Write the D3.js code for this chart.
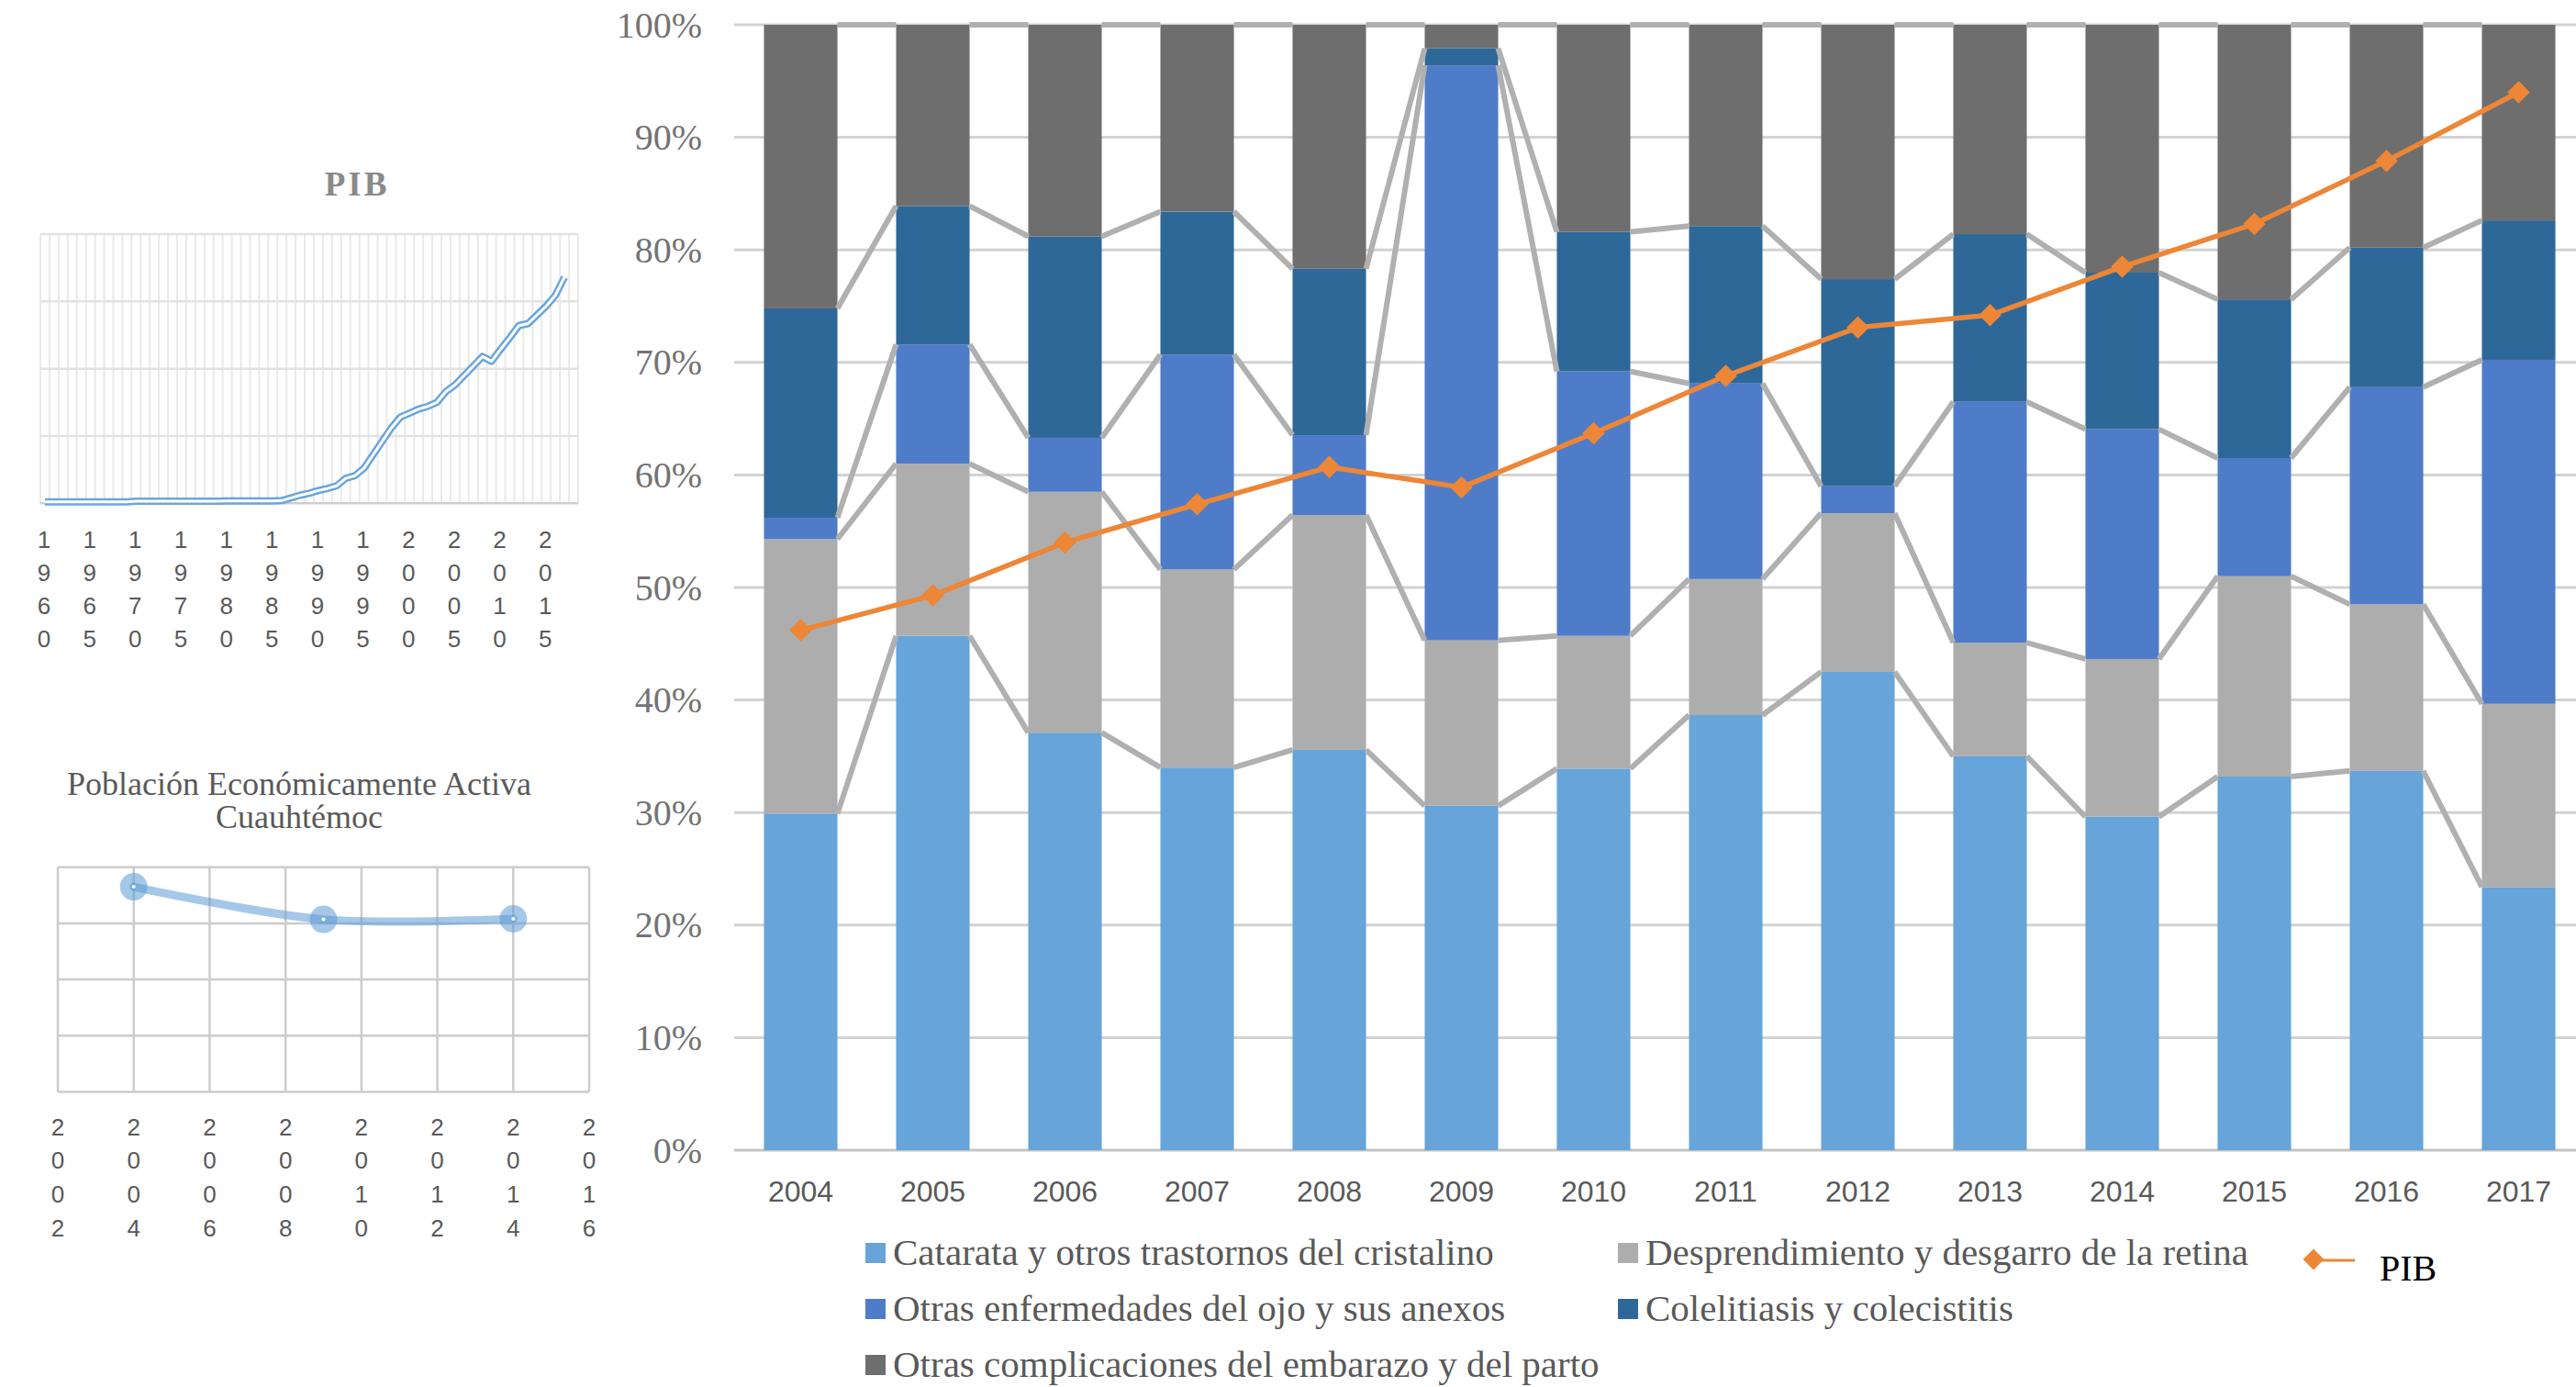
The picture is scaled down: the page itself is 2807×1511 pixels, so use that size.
<!DOCTYPE html>
<html>
<head>
<meta charset="utf-8">
<script src="https://cdn.jsdelivr.net/npm/d3@7"></script>
<style>
  html, body { margin: 0; padding: 0; background: #ffffff; }
  svg { display: block; }
</style>
</head>
<body>
<svg id="chart" width="2807" height="1511"></svg>
<script>
// ---------------- DATA ----------------
const years = ["2004","2005","2006","2007","2008","2009","2010","2011","2012","2013","2014","2015","2016","2017"];
const seriesNames = [
  "Catarata y otros trastornos del cristalino",
  "Desprendimiento y desgarro de la retina",
  "Otras enfermedades del ojo y sus anexos",
  "Colelitiasis y colecistitis",
  "Otras complicaciones del embarazo y del parto"
];
const catarata      = [29.9, 45.7, 37.1, 34.0, 35.6, 30.6, 33.9, 38.7, 42.5, 35.0, 29.6, 33.2, 33.7, 23.4];
const desprend      = [24.4, 15.3, 21.4, 17.6, 20.9, 14.7, 11.8, 12.1, 14.1, 10.1, 14.0, 17.8, 14.8, 16.3];
const otrasOjo      = [ 1.9, 10.6,  4.8, 19.1,  7.1, 51.1, 23.5, 17.4,  2.4, 21.4, 20.4, 10.5, 19.3, 30.6];
const colelitiasis  = [18.6, 12.3, 17.9, 12.7, 14.8,  1.5, 12.4, 14.0, 18.4, 14.9, 13.9, 14.1, 12.4, 12.4];
const complicaciones= [25.2, 16.1, 18.8, 16.6, 21.7,  2.1, 18.4, 17.9, 22.6, 18.6, 22.0, 24.4, 19.8, 17.4];
const pib           = [46.2, 49.3, 54.0, 57.4, 60.7, 58.9, 63.7, 68.8, 73.1, 74.2, 78.5, 82.3, 87.9, 94.0];
const yTicks = [0,10,20,30,40,50,60,70,80,90,100];

// Left chart 1: PIB (1960-2018 axis, data 1960-2017), arbitrary units
const pibYears = d3.range(1960, 2019).map(String);
const pibHist = [0.02,0.02,0.02,0.02,0.02,0.02,0.02,0.02,0.02,0.02,
                 0.03,0.03,0.03,0.03,0.03,0.03,0.03,0.03,0.03,0.03,
                 0.035,0.035,0.035,0.035,0.035,0.035,0.04,0.08,0.12,0.15,
                 0.19,0.22,0.26,0.37,0.41,0.52,0.72,0.92,1.12,1.28,
                 1.34,1.40,1.44,1.50,1.66,1.76,1.90,2.04,2.18,2.11,
                 2.29,2.46,2.64,2.67,2.80,2.93,3.09,3.36];
const pibLabelYears = ["1960","1965","1970","1975","1980","1985","1990","1995","2000","2005","2010","2015"];

// Left chart 2: Población Económicamente Activa Cuauhtémoc
const peaYears = [2004, 2009, 2014];
const peaValues = [3.65, 3.07, 3.08];
const peaTicks = [2002, 2004, 2006, 2008, 2010, 2012, 2014, 2016];

// ---------------- STYLE ----------------
const colors = ["#66a4d9", "#adadad", "#4f7cc8", "#2e6898", "#6e6e6e"];
const orange = "#ed8636";
const serif = "'Liberation Serif','Times New Roman',serif";
const sans = "'Liberation Sans',Arial,sans-serif";

const svg = d3.select("#chart");

// ================= MAIN CHART =================
const x = d3.scaleBand().domain(years).range([800, 2817]).paddingInner(0.444).paddingOuter(0.2255);
const y = d3.scaleLinear().domain([0, 100]).range([1253, 27]);
const bw = x.bandwidth();

const main = svg.append("g");

// gridlines
main.append("g").selectAll("line").data(yTicks).join("line")
  .attr("x1", 800).attr("x2", 2807)
  .attr("y1", d => y(d)).attr("y2", d => y(d))
  .attr("stroke", d => d === 0 ? "#c4c4c4" : "#d2d2d2")
  .attr("stroke-width", 3);

// y labels
main.append("g").selectAll("text").data(yTicks).join("text")
  .attr("x", 765).attr("y", d => y(d))
  .attr("text-anchor", "end").attr("dominant-baseline", "central")
  .attr("font-family", serif).attr("font-size", 40).attr("fill", "#737373")
  .text(d => d + "%");

// x labels
main.append("g").selectAll("text").data(years).join("text")
  .attr("x", d => x(d) + bw / 2).attr("y", 1298)
  .attr("text-anchor", "middle").attr("dominant-baseline", "central")
  .attr("font-family", sans).attr("font-size", 32).attr("fill", "#595959")
  .text(d => d);

// stack
const seriesArrays = [catarata, desprend, otrasOjo, colelitiasis, complicaciones];
const rows = years.map((yr, i) => {
  const r = { year: yr };
  seriesArrays.forEach((arr, k) => r["s" + k] = arr[i]);
  return r;
});
const keys = seriesArrays.map((_, k) => "s" + k);
const stacked = d3.stack().keys(keys).offset(d3.stackOffsetExpand)(rows);

main.append("g").selectAll("g").data(stacked).join("g")
  .attr("fill", (d, k) => colors[k])
  .selectAll("rect").data(d => d).join("rect")
  .attr("x", d => x(d.data.year))
  .attr("width", bw)
  .attr("y", d => y(d[1] * 100))
  .attr("height", d => y(d[0] * 100) - y(d[1] * 100));

// series lines connecting segment tops
const serLines = [];
stacked.forEach(s => {
  for (let i = 0; i < s.length - 1; i++) {
    serLines.push({ a: s[i], b: s[i + 1] });
  }
});
main.append("g").selectAll("line").data(serLines).join("line")
  .attr("x1", d => x(d.a.data.year) + bw)
  .attr("y1", d => y(d.a[1] * 100))
  .attr("x2", d => x(d.b.data.year))
  .attr("y2", d => y(d.b[1] * 100))
  .attr("stroke", "#b0b0b0").attr("stroke-width", 6);

// PIB line
const pibPts = years.map((yr, i) => ({ year: yr, v: pib[i] }));
main.append("path").datum(pibPts)
  .attr("d", d3.line().x(d => x(d.year) + bw / 2).y(d => y(d.v)))
  .attr("fill", "none").attr("stroke", orange).attr("stroke-width", 5.5)
  .attr("stroke-linejoin", "round");
main.append("g").selectAll("path").data(pibPts).join("path")
  .attr("d", d3.symbol(d3.symbolSquare, 300))
  .attr("transform", d => `translate(${x(d.year) + bw / 2},${y(d.v)}) rotate(45)`)
  .attr("fill", orange);

// legend
const legendItems = [
  { name: seriesNames[0], color: colors[0], sx: 943, ty: 1365 },
  { name: seriesNames[1], color: colors[1], sx: 1763, ty: 1365 },
  { name: seriesNames[2], color: colors[2], sx: 943, ty: 1426 },
  { name: seriesNames[3], color: colors[3], sx: 1763, ty: 1426 },
  { name: seriesNames[4], color: colors[4], sx: 943, ty: 1487 }
];
const lg = main.append("g").selectAll("g").data(legendItems).join("g");
lg.append("rect").attr("x", d => d.sx).attr("y", d => d.ty - 11)
  .attr("width", 22).attr("height", 22).attr("fill", d => d.color);
lg.append("text").attr("x", d => d.sx + 30).attr("y", d => d.ty + 13)
  .attr("font-family", serif).attr("font-size", 41).attr("fill", "#595959")
  .text(d => d.name);

// PIB legend
const pl = main.append("g");
pl.append("line").attr("x1", 2521).attr("x2", 2566).attr("y1", 1373).attr("y2", 1373)
  .attr("stroke", orange).attr("stroke-width", 3);
pl.append("path").attr("d", d3.symbol(d3.symbolSquare, 260))
  .attr("transform", "translate(2521,1372) rotate(45)").attr("fill", orange);
pl.append("text").attr("x", 2593).attr("y", 1395)
  .attr("font-family", serif).attr("font-size", 40).attr("fill", "#000")
  .text("PIB");

// ================= LEFT CHART 1: PIB =================
const x1 = d3.scaleBand().domain(pibYears).range([44, 630]);
const y1 = d3.scaleLinear().domain([0, 4]).range([548.3, 255]);
const c1 = svg.append("g");

c1.append("text").attr("x", 389).attr("y", 213).attr("text-anchor", "middle")
  .attr("font-family", serif).attr("font-weight", "bold").attr("font-size", 37)
  .attr("letter-spacing", 3).attr("fill", "#8a8a8a").text("PIB");

// vertical gridlines at band edges
const edges = pibYears.map(d => x1(d)).concat([x1.range()[1]]);
c1.append("g").selectAll("line").data(edges).join("line")
  .attr("x1", d => d).attr("x2", d => d).attr("y1", y1(4)).attr("y2", y1(0))
  .attr("stroke", "#e9e9e9").attr("stroke-width", 2);
c1.append("g").selectAll("line").data([0, 1, 2, 3, 4]).join("line")
  .attr("x1", 44).attr("x2", 630).attr("y1", d => y1(d)).attr("y2", d => y1(d))
  .attr("stroke", d => d === 0 ? "#cfcfcf" : "#e2e2e2").attr("stroke-width", 2.5);

const pibHistPts = pibHist.map((v, i) => ({ year: pibYears[i], v }));
const line1 = d3.line().x(d => x1(d.year) + x1.bandwidth() / 2).y(d => y1(d.v));
c1.append("path").datum(pibHistPts).attr("d", line1)
  .attr("fill", "none").attr("stroke", "#6aa6dc").attr("stroke-width", 8)
  .attr("stroke-linejoin", "round");
c1.append("path").datum(pibHistPts).attr("d", line1)
  .attr("fill", "none").attr("stroke", "#ffffff").attr("stroke-width", 3)
  .attr("stroke-linejoin", "round");

const digitRows1 = [588, 624, 660, 696];
const lab1 = c1.append("g").selectAll("g").data(pibLabelYears).join("g");
lab1.selectAll("text").data(d => d.split("").map((ch, j) => ({ ch, j, yr: d }))).join("text")
  .attr("x", d => x1(d.yr) + x1.bandwidth() / 2 - 1)
  .attr("y", d => digitRows1[d.j])
  .attr("text-anchor", "middle").attr("dominant-baseline", "central")
  .attr("font-family", sans).attr("font-size", 26).attr("fill", "#595959")
  .text(d => d.ch);

// ================= LEFT CHART 2: PEA =================
const x2 = d3.scaleLinear().domain([2002, 2016]).range([63, 642]);
const y2 = d3.scaleLinear().domain([0, 4]).range([1189.5, 944.7]);
const c2 = svg.append("g");

c2.append("text").attr("x", 326).attr("y", 866).attr("text-anchor", "middle")
  .attr("font-family", serif).attr("font-size", 36).attr("fill", "#595959")
  .text("Población Económicamente Activa");
c2.append("text").attr("x", 326).attr("y", 902).attr("text-anchor", "middle")
  .attr("font-family", serif).attr("font-size", 36).attr("fill", "#595959")
  .text("Cuauhtémoc");

c2.append("g").selectAll("line").data(peaTicks).join("line")
  .attr("x1", d => x2(d)).attr("x2", d => x2(d)).attr("y1", y2(4)).attr("y2", y2(0))
  .attr("stroke", "#cccccc").attr("stroke-width", 2.5);
c2.append("g").selectAll("line").data([0, 1, 2, 3, 4]).join("line")
  .attr("x1", x2(2002)).attr("x2", x2(2016)).attr("y1", d => y2(d)).attr("y2", d => y2(d))
  .attr("stroke", "#cccccc").attr("stroke-width", 2.5);

const peaPts = peaYears.map((yr, i) => ({ yr, v: peaValues[i] }));
c2.append("path").datum(peaPts)
  .attr("d", d3.line().x(d => x2(d.yr)).y(d => y2(d.v)).curve(d3.curveCatmullRom.alpha(0.5)))
  .attr("fill", "none").attr("stroke", "#5b9bd5").attr("stroke-opacity", 0.55)
  .attr("stroke-width", 9).attr("stroke-linecap", "round");
c2.append("g").selectAll("circle").data(peaPts).join("circle")
  .attr("cx", d => x2(d.yr)).attr("cy", d => y2(d.v)).attr("r", 15)
  .attr("fill", "#5b9bd5").attr("fill-opacity", 0.55);
c2.append("g").selectAll("circle").data(peaPts).join("circle")
  .attr("cx", d => x2(d.yr)).attr("cy", d => y2(d.v)).attr("r", 2)
  .attr("fill", "#ffffff");

const digitRows2 = [1228, 1264, 1301, 1338];
const lab2 = c2.append("g").selectAll("g").data(peaTicks).join("g");
lab2.selectAll("text").data(d => String(d).split("").map((ch, j) => ({ ch, j, yr: d }))).join("text")
  .attr("x", d => x2(d.yr))
  .attr("y", d => digitRows2[d.j])
  .attr("text-anchor", "middle").attr("dominant-baseline", "central")
  .attr("font-family", sans).attr("font-size", 26).attr("fill", "#595959")
  .text(d => d.ch);
</script>
</body>
</html>
